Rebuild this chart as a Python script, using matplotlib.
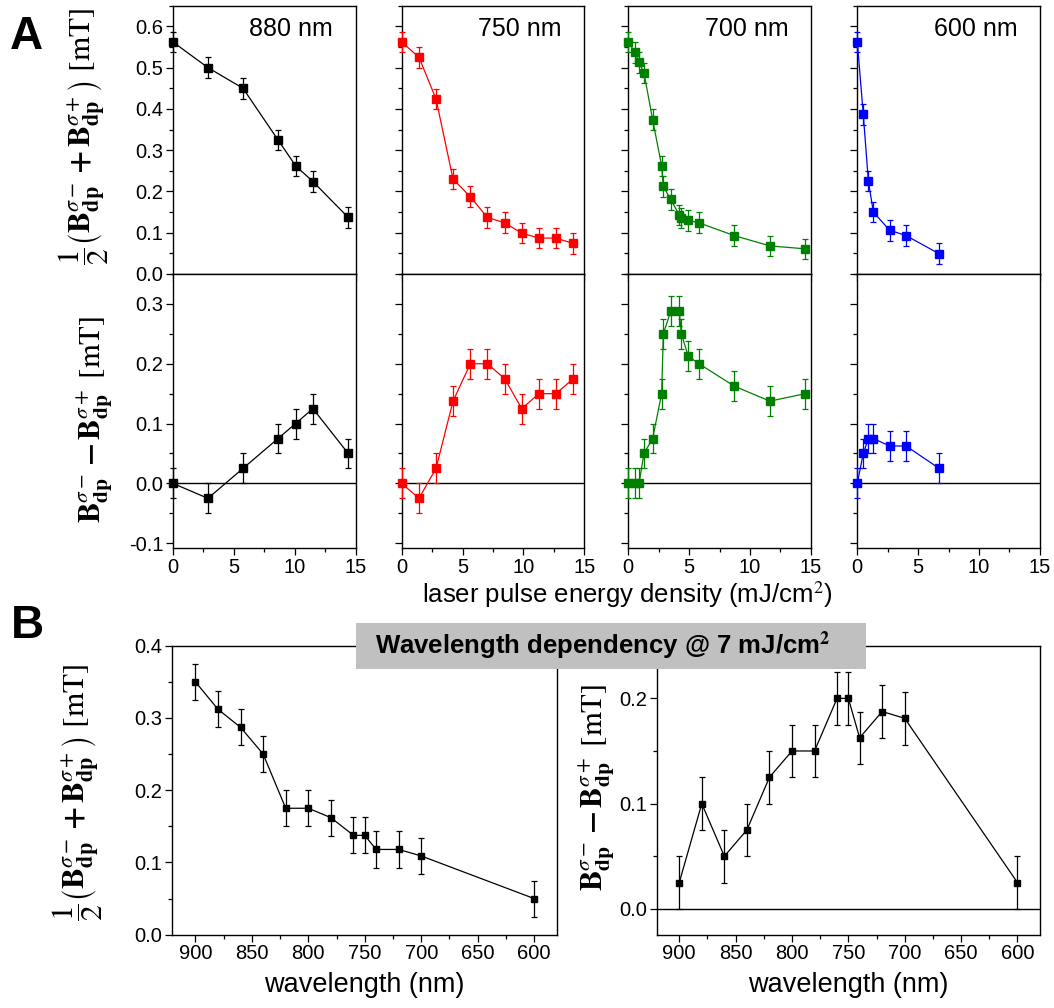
import matplotlib
matplotlib.use('Agg')
import matplotlib.pyplot as plt
from matplotlib.ticker import MultipleLocator, NullFormatter, FormatStrFormatter
from matplotlib.patches import Rectangle

plt.rcParams['font.family'] = ['Liberation Sans', 'DejaVu Sans']
plt.rcParams['mathtext.fontset'] = 'stix'

# ---- panel A data: energy density (mJ/cm2) ----
wl_labels = ['880 nm', '750 nm', '700 nm', '600 nm']
colors = ['black', '#ff0000', '#008000', '#0000ff']

x880 = [0, 2.87, 5.75, 8.63, 10.08, 11.5, 14.4]
sum880 = [0.562, 0.50, 0.45, 0.325, 0.262, 0.224, 0.137]
diff880 = [0.0, -0.025, 0.025, 0.075, 0.10, 0.125, 0.05]

x750 = [0, 1.42, 2.82, 4.22, 5.64, 7.04, 8.47, 9.86, 11.29, 12.68, 14.1]
sum750 = [0.562, 0.525, 0.424, 0.230, 0.187, 0.137, 0.124, 0.099, 0.087, 0.087, 0.074]
diff750 = [0.0, -0.025, 0.025, 0.1375, 0.20, 0.20, 0.175, 0.125, 0.15, 0.15, 0.175]

x700 = [0, 0.55, 0.88, 1.29, 2.0, 2.74, 2.88, 3.48, 4.19, 4.36, 4.93, 5.81, 8.71, 11.64, 14.55]
sum700 = [0.562, 0.537, 0.513, 0.487, 0.374, 0.262, 0.212, 0.181, 0.143, 0.136, 0.130, 0.124, 0.093, 0.068, 0.061]
diff700 = [0.0, 0.0, 0.0, 0.05, 0.075, 0.15, 0.25, 0.2875, 0.2875, 0.25, 0.2125, 0.20, 0.1625, 0.1375, 0.15]

x600 = [0, 0.49, 0.91, 1.32, 2.66, 4.01, 6.73]
sum600 = [0.562, 0.387, 0.225, 0.150, 0.106, 0.093, 0.049]
diff600 = [0.0, 0.05, 0.075, 0.075, 0.0625, 0.0625, 0.025]

err_A = 0.025

# ---- panel B data: wavelength dependency @ 7 mJ/cm2 ----
wavelength = [900, 880, 860, 840, 820, 800, 780, 760, 750, 740, 720, 700, 600]
sum_B = [0.350, 0.312, 0.287, 0.250, 0.175, 0.175, 0.162, 0.1375, 0.1375, 0.118, 0.118, 0.109, 0.050]
diff_B = [0.025, 0.10, 0.05, 0.075, 0.125, 0.15, 0.15, 0.20, 0.20, 0.1625, 0.1875, 0.181, 0.025]
err_B = 0.025

xs = [x880, x750, x700, x600]
sums = [sum880, sum750, sum700, sum600]
diffs = [diff880, diff750, diff700, diff600]

W, H = 1054, 1008
fig = plt.figure(figsize=(W / 100, H / 100), dpi=100)


def rect(x0, y0, x1, y1):
    # pixel box -> figure fraction
    return [x0 / W, 1 - y1 / H, (x1 - x0) / W, (y1 - y0) / H]


lefts = [173, 401.7, 628.3, 857.3]
pw = 182.5
tick_fs = 14.5

for i in range(4):
    l = lefts[i]
    ax1 = fig.add_axes(rect(l, 5.7, l + pw, 274))
    ax2 = fig.add_axes(rect(l, 274, l + pw, 548))
    c = colors[i]

    ax1.errorbar(xs[i], sums[i], yerr=err_A, color=c, marker='s', ms=5.5, lw=0.9,
                 elinewidth=0.9, capsize=2.5, capthick=0.9, clip_on=False, zorder=3)
    ax2.errorbar(xs[i], diffs[i], yerr=err_A, color=c, marker='s', ms=5.5, lw=0.9,
                 elinewidth=0.9, capsize=2.5, capthick=0.9, clip_on=False, zorder=3)
    ax2.axhline(0, color='black', lw=1.0, zorder=2)

    ax1.set_xlim(0, 15)
    ax1.set_ylim(0, 0.65)
    ax2.set_xlim(0, 15)
    ax2.set_ylim(-0.108, 0.35)

    for ax in (ax1, ax2):
        ax.xaxis.set_major_locator(MultipleLocator(5))
        ax.xaxis.set_minor_locator(MultipleLocator(2.5))
        ax.tick_params(which='both', direction='out', right=False, top=False,
                       labelsize=tick_fs, width=0.9, pad=2)
        ax.tick_params(which='major', length=5)
        ax.tick_params(which='minor', length=3)
        for s in ax.spines.values():
            s.set_linewidth(1.0)

    ax1.yaxis.set_major_locator(MultipleLocator(0.1))
    ax1.yaxis.set_minor_locator(MultipleLocator(0.05))
    ax2.yaxis.set_major_locator(MultipleLocator(0.1))
    ax2.yaxis.set_minor_locator(MultipleLocator(0.05))
    ax1.xaxis.set_major_formatter(NullFormatter())
    ax1.yaxis.set_major_formatter(FormatStrFormatter('%.1f'))
    ax2.yaxis.set_major_formatter(FormatStrFormatter('%.1f'))
    ax2.set_yticks([-0.1, 0.0, 0.1, 0.2, 0.3])
    if i > 0:
        ax1.yaxis.set_major_formatter(NullFormatter())
        ax2.yaxis.set_major_formatter(NullFormatter())

    ax1.text(0.877, 0.913, wl_labels[i], transform=ax1.transAxes, ha='right', va='center',
             fontsize=18)

fig.text(627 / W, 1 - 595 / H, 'laser pulse energy density (mJ/cm$^2$)', ha='center',
         va='center', fontsize=18.5)

# ---- B panels ----
bl = fig.add_axes(rect(171.7, 645.7, 556.7, 934.7))
br = fig.add_axes(rect(656.7, 645.7, 1040, 934.7))

bl.errorbar(wavelength, sum_B, yerr=err_B, color='black', marker='s', ms=5, lw=0.9,
            elinewidth=0.9, capsize=2.5, capthick=0.9, zorder=3)
br.errorbar(wavelength, diff_B, yerr=err_B, color='black', marker='s', ms=5, lw=0.9,
            elinewidth=0.9, capsize=2.5, capthick=0.9, zorder=3)
br.axhline(0, color='black', lw=1.0, zorder=2)

bl.set_xlim(921, 580)
br.set_xlim(920, 580)
bl.set_ylim(0, 0.4)
br.set_ylim(-0.0245, 0.25)

for ax in (bl, br):
    ax.xaxis.set_major_locator(MultipleLocator(50))
    ax.xaxis.set_minor_locator(MultipleLocator(25))
    ax.yaxis.set_major_locator(MultipleLocator(0.1))
    ax.yaxis.set_minor_locator(MultipleLocator(0.05))
    ax.yaxis.set_major_formatter(FormatStrFormatter('%.1f'))
    ax.tick_params(which='both', direction='out', right=False, top=False,
                   labelsize=tick_fs, width=0.9, pad=2)
    ax.tick_params(which='major', length=5)
    ax.tick_params(which='minor', length=3)
    ax.set_xlabel('wavelength (nm)', fontsize=19.5, labelpad=6)
    for s in ax.spines.values():
        s.set_linewidth(1.0)

# ---- y labels ----
lab_sum = (r'$\dfrac{1}{2}\left(\mathbf{B}^{\sigma-}_{\mathbf{dp}}\,\mathbf{+}\,'
           r'\mathbf{B}^{\sigma+}_{\mathbf{dp}}\right)\ [\mathrm{mT}]$')
lab_diff = (r'$\mathbf{B}^{\sigma-}_{\mathbf{dp}}\,\mathbf{-}\,'
            r'\mathbf{B}^{\sigma+}_{\mathbf{dp}}\ [\mathrm{mT}]$')
fig.text(84 / W, 1 - 136 / H, lab_sum, rotation=90, ha='center', va='center', fontsize=22.5)
fig.text(95 / W, 1 - 420 / H, lab_diff, rotation=90, ha='center', va='center', fontsize=22)
fig.text(78 / W, 1 - 792 / H, lab_sum, rotation=90, ha='center', va='center', fontsize=22.5)
fig.text(597 / W, 1 - 788 / H, lab_diff, rotation=90, ha='center', va='center', fontsize=22)

# panel letters
fig.text(26 / W, 1 - 37 / H, 'A', ha='center', va='center', fontsize=33, fontweight='bold')
fig.text(27 / W, 1 - 626 / H, 'B', ha='center', va='center', fontsize=33, fontweight='bold')

# gray title box
fig.patches.append(Rectangle((356 / W, 1 - 669 / H), (866 - 356) / W, (669 - 623) / H,
                             transform=fig.transFigure, facecolor='#c0c0c0',
                             edgecolor='none', zorder=10))
fig.text(603 / W, 1 - 646 / H, 'Wavelength dependency @ 7 mJ/cm$^\\mathbf{2}$', ha='center',
         va='center', fontsize=18.5, fontweight='bold', zorder=11)

fig.savefig('out.png', dpi=100)
